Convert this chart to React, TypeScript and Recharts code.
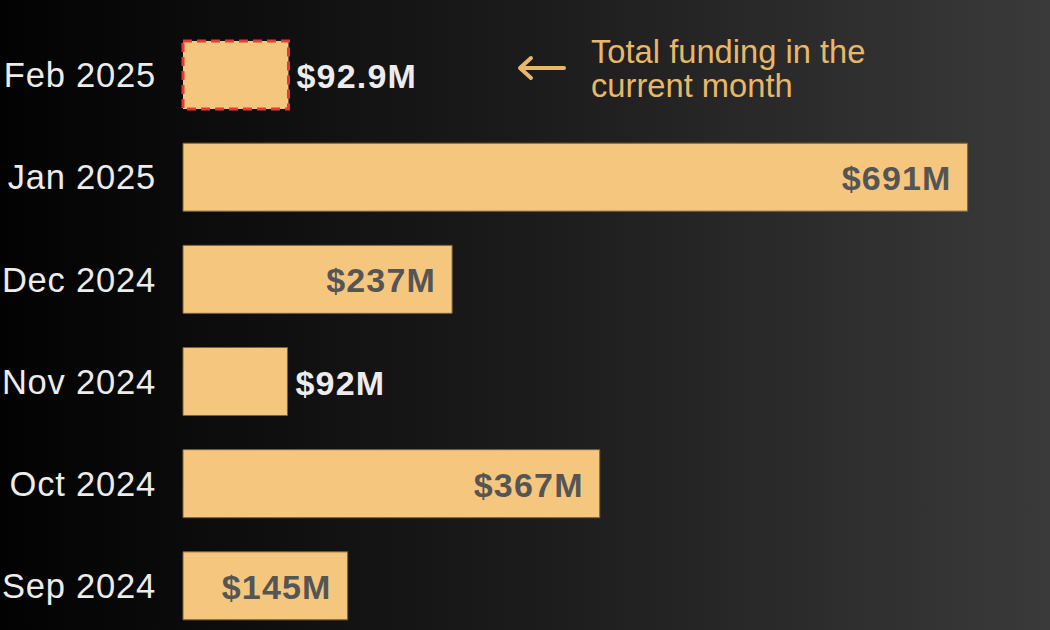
import React from "react";
import { BarChart, Bar, XAxis, YAxis, Cell, LabelList } from "recharts";

const months = ["Feb 2025", "Jan 2025", "Dec 2024", "Nov 2024", "Oct 2024", "Sep 2024"];
const funding = [92.9, 691, 237, 92, 367, 145];
const valueLabels = ["$92.9M", "$691M", "$237M", "$92M", "$367M", "$145M"];
const annotationLines = ["Total funding in the", "current month"];

const data = months.map((m, i) => ({ month: m, value: funding[i], label: valueLabels[i] }));

const FONT = "'Liberation Sans', Arial, sans-serif";

const renderLabel = (props: any) => {
  const { x, y, width, height, index } = props;
  const text = valueLabels[index];
  const inside = width > 120;
  const cy = y + height / 2 + 1;
  if (inside) {
    return (
      <text x={x + width - 16} y={cy} textAnchor="end" dominantBaseline="central"
        fill="#555555" fontSize={34} fontWeight={700} fontFamily={FONT} letterSpacing={1.2}>
        {text}
      </text>
    );
  }
  return (
    <text x={x + width + 8} y={cy} textAnchor="start" dominantBaseline="central"
      fill="#ececec" fontSize={34} fontWeight={700} fontFamily={FONT} letterSpacing={1.2}>
      {text}
    </text>
  );
};

export default function App() {
  return (
    <div style={{ position: "absolute", left: 0, top: 0, width: 1050, height: 630, overflow: "hidden",
      background: "linear-gradient(90deg, #020202 0%, #1b1b1b 50%, #3a3a3a 100%)" }}>
      <BarChart width={1050} height={650} data={data} layout="vertical"
        margin={{ top: 24, right: 4, bottom: 13, left: 0 }}>
        <XAxis type="number" domain={[0, 760]} hide />
        <YAxis type="category" dataKey="month" width={183} axisLine={false} tickLine={false}
          tickSize={0} tickMargin={27}
          tick={{ fill: "#ececec", fontSize: 34.5, fontFamily: FONT, letterSpacing: 0.8 }} />
        <Bar dataKey="value" barSize={68} fill="#F5C77E" stroke="#7a6236" strokeWidth={1}
          isAnimationActive={false}>
          {data.map((d, i) => (
            <Cell key={d.month} fill="#F5C77E"
              stroke={i === 0 ? "#E53935" : "#7a6236"}
              strokeWidth={i === 0 ? 3 : 1}
              strokeDasharray={i === 0 ? "9 5" : undefined} />
          ))}
          <LabelList dataKey="label" content={renderLabel} />
        </Bar>
      </BarChart>
      <svg style={{ position: "absolute", left: 516, top: 55 }} width={52} height={26}>
        <path d="M48 13 H5 M15 3 L4 13 L15 23" stroke="#E8B86A" strokeWidth={4}
          fill="none" strokeLinecap="round" strokeLinejoin="round" />
      </svg>
      <div style={{ position: "absolute", left: 591, top: 35, color: "#E8B86A", fontFamily: FONT,
        fontSize: 32.7, lineHeight: "34px", whiteSpace: "nowrap" }}>
        {annotationLines.map((l) => (<div key={l}>{l}</div>))}
      </div>
    </div>
  );
}
